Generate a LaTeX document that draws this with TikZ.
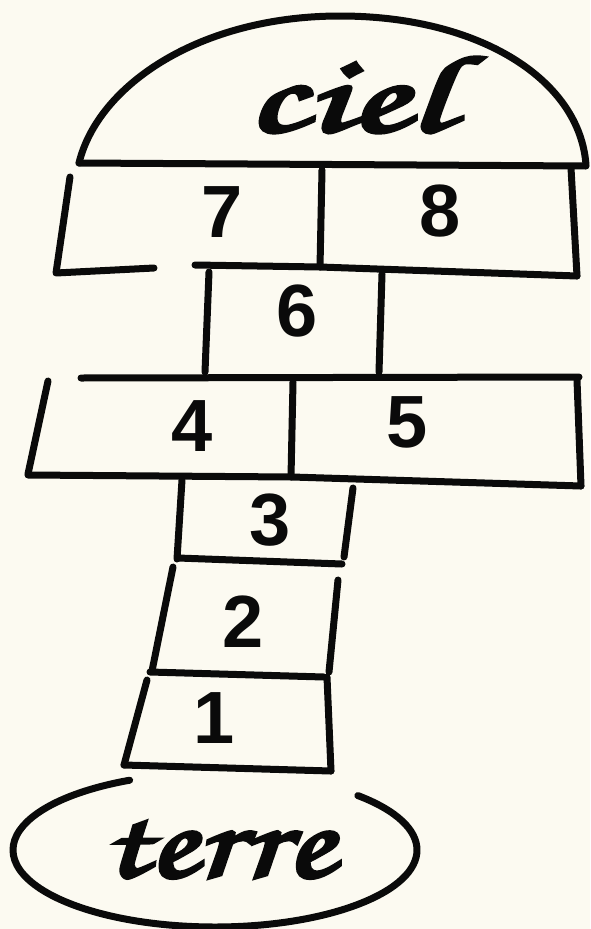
\documentclass[tikz,border=0pt]{standalone}
\usepackage{fontspec}
\newfontfamily\digitfont{Liberation Sans}
\newfontfamily\handfont{texgyrechorus-mediumitalic.otf}[FakeBold=3]
\definecolor{paper}{HTML}{FCFAF1}
\definecolor{ink}{HTML}{0A0A0A}
\tikzset{
  chalk/.style={draw=ink, line width=7pt, line cap=round, line join=round},
  num/.style={inner sep=0pt, text=ink, font=\digitfont\bfseries\fontsize{74}{74}\selectfont},
  word/.style={inner sep=0pt, text=ink, font=\handfont\fontsize{110}{110}\selectfont}
}
\begin{document}
\begin{tikzpicture}[x=1pt,y=-1pt]
\fill[paper] (0,0) rectangle (590,929);
\useasboundingbox (0,0) rectangle (590,929);
% ciel (dome)
\draw[chalk] (79,163) .. controls (98,85) and (200,16) .. (340,16) .. controls (480,16) and (580,80) .. (586,165);
\draw[chalk] (79,163) -- (586,166);
% row 7 / 8
\draw[chalk] (70,177) -- (56,273) -- (154,268);
\draw[chalk] (195,265) -- (320,267) -- (577,276);
\draw[chalk] (571,168) -- (577,276);
\draw[chalk] (322,170) -- (320,267);
% box 6
\draw[chalk] (209,272) -- (205,372);
\draw[chalk] (382,274) -- (379,372);
% row 4 / 5
\draw[chalk] (81,378) -- (579,377);
\draw[chalk] (48,381) -- (28,474);
\draw[chalk] (28,475) -- (292,477) -- (581,486);
\draw[chalk] (293,382) -- (291,477);
\draw[chalk] (577,380) -- (581,486);
% box 3
\draw[chalk] (182,480) -- (177,559);
\draw[chalk] (353,488) -- (344,557);
\draw[chalk] (178,558) -- (342,564);
% box 2
\draw[chalk] (173,567) -- (152,671);
\draw[chalk] (338,580) -- (329,672);
\draw[chalk] (150,672) -- (324,677);
% box 1
\draw[chalk] (147,680) -- (124,765);
\draw[chalk] (327,677) -- (331,771);
\draw[chalk] (124,765) -- (331,771);
% terre (ellipse)
\draw[chalk] (215,850) ++(-45:202 and 77) arc[start angle=-45, end angle=245, x radius=202, y radius=77];
% texts
\node[word, xscale=1.6] (ciel) at (348,95) {ciel};
\node[word, xscale=1.3] (terre) at (218,850) {terre};
\node[num] (n7) at (222,212) {7};
\node[num] (n8) at (440,211) {8};
\node[num] (n6) at (297,311) {6};
\node[num] (n4) at (192,426) {4};
\node[num] (n5) at (407,422) {5};
\node[num] (n3) at (270,520) {3};
\node[num] (n2) at (243,622) {2};
\node[num] (n1) at (214,718) {1};
\end{tikzpicture}
\end{document}
